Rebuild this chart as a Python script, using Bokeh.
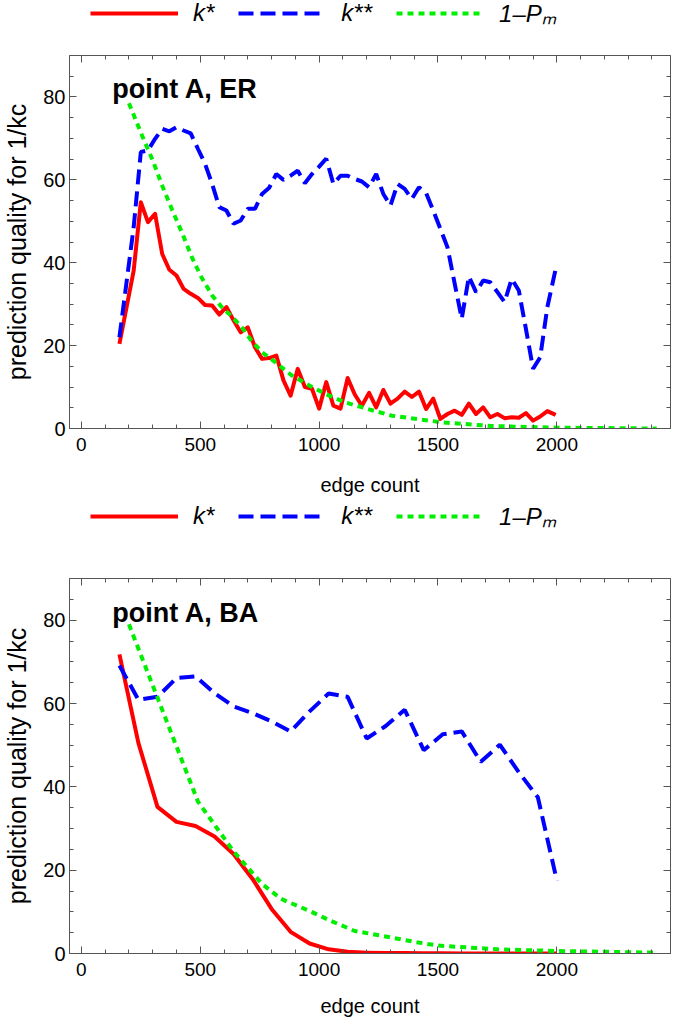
from bokeh.plotting import figure
from bokeh.models import (Legend, LegendItem, LinearAxis, FixedTicker, Range1d,
                          Label, CustomJSTickFormatter)
from bokeh.layouts import column
from bokeh.embed import file_html
from bokeh.resources import INLINE

# ---------------- data ----------------
# panel 1: point A, ER
er_red_x = [160, 220, 250, 280, 310, 340, 370, 400, 430, 460, 490, 520, 550, 580, 610,
            640, 670, 700, 730, 760, 790, 820, 850, 880, 910, 940, 970, 1000, 1030, 1060,
            1090, 1120, 1150, 1180, 1210, 1240, 1270, 1300, 1330, 1360, 1390, 1420, 1450,
            1480, 1510, 1540, 1570, 1600, 1630, 1660, 1690, 1720, 1750, 1780, 1810, 1840,
            1870, 1900, 1930, 1960, 1995]
er_red_y = [20.4, 38.1, 54.6, 49.8, 51.8, 42.1, 38.3, 36.9, 33.7, 32.5, 31.5, 29.8, 29.7,
            27.5, 29.3, 26.1, 23.2, 24.4, 19.6, 16.8, 17.0, 17.6, 11.6, 7.9, 14.4, 10.0, 9.6,
            4.8, 11.2, 5.5, 4.8, 12.2, 8.2, 5.5, 8.6, 5.1, 9.3, 6.0, 7.2, 8.9, 7.6, 8.9, 4.7,
            7.2, 2.3, 3.5, 4.3, 3.3, 6.0, 3.5, 5.1, 2.7, 3.5, 2.5, 2.7, 2.6, 3.7, 1.9, 2.9,
            4.2, 3.3]
er_blue_x = er_red_x
er_blue_y = [22.0, 48.6, 66.7, 67.1, 69.9, 72.3, 71.7, 72.7, 71.9, 71.2, 67.5, 63.9, 59.0,
             53.4, 52.6, 49.4, 50.2, 53.0, 53.0, 56.6, 58.1, 61.4, 60.0, 61.0, 62.2, 59.2,
             61.4, 63.2, 65.1, 59.0, 61.0, 61.0, 60.2, 59.6, 58.2, 61.4, 56.6, 53.8, 59.0,
             57.8, 55.4, 58.2, 56.8, 52.6, 48.2, 43.7, 35.0, 26.5, 36.7, 32.9, 35.7, 35.3,
             32.9, 30.5, 36.1, 33.3, 24.0, 14.4, 17.2, 29.3, 38.5]
er_green_x = [200, 255, 300, 340, 380, 425, 465, 505, 550, 590, 635, 675, 715, 760, 815,
              885, 970, 1040, 1110, 1205, 1305, 1515, 1725, 1995, 2420]
er_green_y = [78.5, 70.7, 64.7, 58.6, 53.0, 47.0, 41.3, 36.5, 32.1, 29.3, 26.9, 24.4, 21.2,
              18.4, 16.0, 12.8, 10.0, 8.0, 6.3, 4.7, 3.1, 1.5, 0.6, 0.2, 0.0]

# panel 2: point A, BA
ba_x = [160, 240, 320, 400, 480, 560, 640, 720, 800, 880, 960, 1040, 1120, 1200, 1280,
        1360, 1440, 1520, 1600, 1680, 1760, 1840, 1920, 2000]
ba_red_y = [71.8, 50.5, 35.2, 31.6, 30.6, 28.1, 23.9, 17.9, 10.7, 5.2, 2.4, 1.0, 0.4, 0.2,
            0.1, 0.1, 0.05, 0.05, 0.0, 0.0, 0.0, 0.0, 0.0, 0.0]
ba_blue_y = [69.1, 60.9, 61.6, 66.1, 66.5, 62.5, 59.3, 57.7, 55.7, 53.3, 58.1, 62.4, 61.6,
             51.6, 54.6, 58.5, 48.8, 52.6, 53.3, 46.0, 50.1, 43.5, 37.5, 17.5]
ba_green_x = [200, 490, 640, 760, 840, 960, 1050, 1150, 1250, 1400, 1500, 1750, 2000, 2420]
ba_green_y = [79.0, 36.5, 24.5, 16.7, 13.1, 10.2, 7.8, 5.4, 4.4, 2.8, 1.9, 1.0, 0.6, 0.2]

x_major = [0, 500, 1000, 1500, 2000]
x_minor = list(range(0, 2500, 100))
y_major = [0, 20, 40, 60, 80]
y_minor = list(range(0, 95, 5))
legend_labels = ["k*", "k**", "1\u2013P\u2098"]
FONT = "Liberation Sans"
FRAME = "#555555"
RED, BLUE, GREEN = "#FF0000", "#0000FF", "#00EE00"
STYLES = [dict(line_color=RED, line_width=4, line_join="round"),
          dict(line_color=BLUE, line_width=4, line_dash="15 7"),
          dict(line_color=GREEN, line_width=4, line_dash="6 5")]
W = 672


def style_axis(ax, labels=True):
    ax.major_tick_in = 7
    ax.major_tick_out = 0
    ax.minor_tick_in = 4
    ax.minor_tick_out = 0
    ax.axis_line_color = FRAME
    ax.major_tick_line_color = FRAME
    ax.minor_tick_line_color = FRAME
    if labels:
        ax.major_label_text_font = FONT
        ax.major_label_text_color = "black"
        ax.axis_label_text_font = FONT
        ax.axis_label_text_font_style = "normal"
        ax.axis_label_text_color = "black"
    else:
        ax.formatter = CustomJSTickFormatter(code="return ''")
        ax.major_label_text_font_size = "0px"
        ax.major_label_standoff = 0


def make_legend_strip(height, top_gap, series):
    """A frameless strip that only carries the horizontal legend.
    The series are attached to it (outside its visible range) so that the
    legend can draw its line samples."""
    lf = figure(width=W, height=height, output_backend="svg", toolbar_location=None,
                x_axis_type=None, y_axis_type=None,
                x_range=Range1d(-50, 2478), y_range=Range1d(500, 501),
                min_border_left=0, min_border_right=0, min_border_top=0,
                min_border_bottom=0)
    lf.grid.visible = False
    lf.outline_line_color = None
    rs = [lf.line(x, y, **st) for (x, y), st in zip(series, STYLES)]
    legend = Legend(items=[LegendItem(label=lab, renderers=[r])
                           for lab, r in zip(legend_labels, rs)],
                    orientation="horizontal", location=(21, height - 28 - top_gap),
                    glyph_width=88, glyph_height=28, label_height=28,
                    label_standoff=15, spacing=24, padding=0, margin=0,
                    border_line_color=None, background_fill_alpha=0,
                    label_text_font=FONT, label_text_font_size="24px",
                    label_text_font_style="italic", label_text_color="black")
    lf.add_layout(legend, "center")
    return lf


def make_panel(title, series, height, btop, frame_h, xlab_standoff):
    p = figure(width=W, height=height, output_backend="svg", toolbar_location=None,
               x_range=Range1d(-50, 2478), y_range=Range1d(0, 90),
               min_border_left=67, min_border_right=2, min_border_top=btop,
               min_border_bottom=height - frame_h - btop)
    p.outline_line_color = None
    p.grid.visible = False
    p.background_fill_color = "white"
    p.border_fill_color = "white"

    xt = FixedTicker(ticks=x_major, minor_ticks=x_minor)
    yt = FixedTicker(ticks=y_major, minor_ticks=y_minor)
    p.xaxis.ticker = xt
    p.yaxis.ticker = yt
    p.xaxis.axis_label = "edge count"
    p.yaxis.axis_label = "prediction quality for 1/kc"
    for ax in p.xaxis:
        style_axis(ax)
        ax.major_label_text_font_size = "19px"
        ax.axis_label_text_font_size = "20px"
        ax.major_label_standoff = 9
        ax.axis_label_standoff = xlab_standoff
    for ax in p.yaxis:
        style_axis(ax)
        ax.major_label_text_font_size = "20px"
        ax.axis_label_text_font_size = "25px"
        ax.major_label_standoff = 4
        ax.axis_label_standoff = 9

    top = LinearAxis(ticker=xt)
    style_axis(top, labels=False)
    right = LinearAxis(ticker=yt)
    style_axis(right, labels=False)
    p.add_layout(top, "above")
    p.add_layout(right, "right")

    for (x, y), st in zip(series, STYLES):
        p.line(x, y, **st)

    p.add_layout(Label(x=130, y=81.8, text=title, text_font=FONT,
                       text_font_size="27px", text_font_style="bold",
                       text_baseline="alphabetic", text_color="black"))
    return p


er_series = [(er_red_x, er_red_y), (er_blue_x, er_blue_y), (er_green_x, er_green_y)]
ba_series = [(ba_x, ba_red_y), (ba_x, ba_blue_y), (ba_green_x, ba_green_y)]

leg1 = make_legend_strip(40, 1, er_series)
p1 = make_panel("point A, ER", er_series, 462, 15, 373, 20)
leg2 = make_legend_strip(38, 2, ba_series)
p2 = make_panel("point A, BA", ba_series, 482, 38, 375, 16)

layout = column(leg1, p1, leg2, p2, spacing=0)
open("out.html", "w").write(file_html(layout, INLINE))
